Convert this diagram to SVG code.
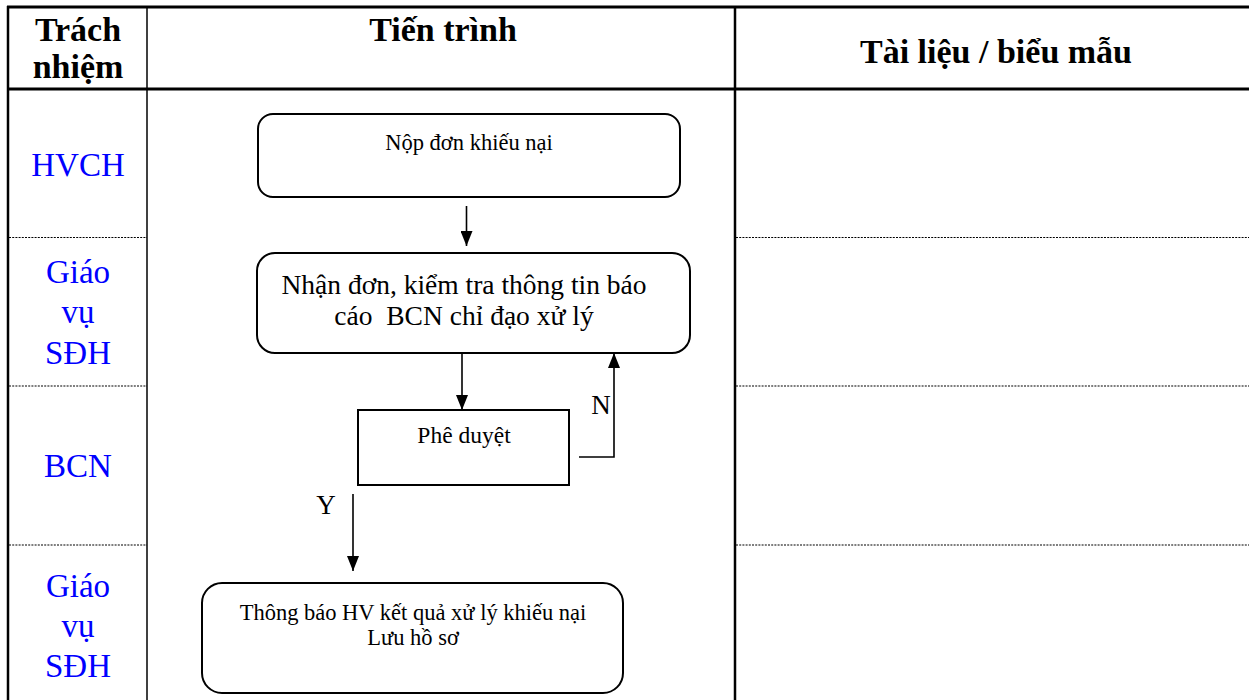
<svg xmlns="http://www.w3.org/2000/svg" width="1249" height="700" viewBox="0 0 1249 700">
<defs>
<marker id="ah" markerUnits="userSpaceOnUse" markerWidth="12" markerHeight="16" viewBox="0 0 12 16" refX="6" refY="15" orient="auto-start-reverse">
<path d="M0,0 L12,0 L6,15 Z" transform="rotate(0)" fill="#000"/>
</marker>
<marker id="ad" markerUnits="userSpaceOnUse" markerWidth="16" markerHeight="12" viewBox="0 0 16 12" refX="15" refY="6" orient="auto">
<path d="M0,0 L15,6 L0,12 Z" fill="#000"/>
</marker>
</defs>
<style>
.hdr{font-family:"Liberation Serif","Times New Roman",serif;font-weight:bold;font-size:34px;fill:#000;text-anchor:middle}
.role{font-family:"Liberation Serif","Times New Roman",serif;font-size:33px;fill:#0000FF;text-anchor:middle}
.t{font-family:"Liberation Serif","Times New Roman",serif;fill:#000;text-anchor:middle}
.box{fill:#fff;stroke:#000;stroke-width:2}
.dot{stroke:#000;stroke-width:1.2;stroke-dasharray:2 1.2;fill:none}
.edge{stroke:#000;stroke-width:1.6;fill:none;marker-end:url(#ad)}
</style>
<rect width="1249" height="700" fill="#fff"/>
<g id="table">
<line x1="7" y1="7" x2="1249" y2="7" stroke="#000" stroke-width="3"/>
<line x1="7" y1="89" x2="1249" y2="89" stroke="#000" stroke-width="3"/>
<line x1="8" y1="6" x2="8" y2="700" stroke="#000" stroke-width="2.5"/>
<line x1="147" y1="7" x2="147" y2="700" stroke="#000" stroke-width="1.5"/>
<line x1="735" y1="7" x2="735" y2="700" stroke="#000" stroke-width="2.5"/>
<line class="dot" x1="9" y1="237.5" x2="147" y2="237.5"/>
<line class="dot" x1="9" y1="386" x2="147" y2="386"/>
<line class="dot" x1="9" y1="545" x2="147" y2="545"/>
<line class="dot" x1="736" y1="237.5" x2="1249" y2="237.5"/>
<line class="dot" x1="736" y1="386" x2="1249" y2="386"/>
<line class="dot" x1="736" y1="545" x2="1249" y2="545"/>
<text class="hdr" x="78" y="41">Trách</text>
<text class="hdr" x="78" y="78">nhiệm</text>
<text class="hdr" x="443" y="41">Tiến trình</text>
<text class="hdr" x="996" y="63">Tài liệu / biểu mẫu</text>
</g>
<g id="roles">
<text class="role" x="78" y="176">HVCH</text>
<text class="role" x="78" y="283">Giáo</text>
<text class="role" x="78" y="323">vụ</text>
<text class="role" x="78" y="364">SĐH</text>
<text class="role" x="78" y="477">BCN</text>
<text class="role" x="78" y="597">Giáo</text>
<text class="role" x="78" y="637">vụ</text>
<text class="role" x="78" y="677">SĐH</text>
</g>
<g id="connectors">
<path class="edge" d="M466.5,206 V246"/>
<path class="edge" d="M462,353 V410"/>
<path class="edge" d="M579,457 H614 V353"/>
<path class="edge" d="M353,494 V571"/>
<text class="t" x="601" y="414" font-size="27">N</text>
<text class="t" x="326" y="514" font-size="27">Y</text>
</g>
<g id="n1">
<rect class="box" x="258" y="114" width="422" height="83" rx="15"/>
<text class="t" x="469" y="150" font-size="22.5">Nộp đơn khiếu nại</text>
</g>
<g id="n2">
<rect class="box" x="257" y="253" width="433" height="100" rx="18"/>
<text class="t" x="464" y="294" font-size="27.5">Nhận đơn, kiểm tra thông tin báo</text>
<text class="t" x="464" y="325" font-size="27.5" xml:space="preserve">cáo  BCN chỉ đạo xử lý</text>
</g>
<g id="n3">
<rect class="box" x="358" y="410" width="211" height="75" stroke-width="1.6"/>
<text class="t" x="464" y="443" font-size="23.5">Phê duyệt</text>
</g>
<g id="n4">
<rect class="box" x="202" y="583" width="421" height="110" rx="20"/>
<text class="t" x="413" y="620" font-size="22.5">Thông báo HV kết quả xử lý khiếu nại</text>
<text class="t" x="413" y="645" font-size="22.5">Lưu hồ sơ</text>
</g>
</svg>
